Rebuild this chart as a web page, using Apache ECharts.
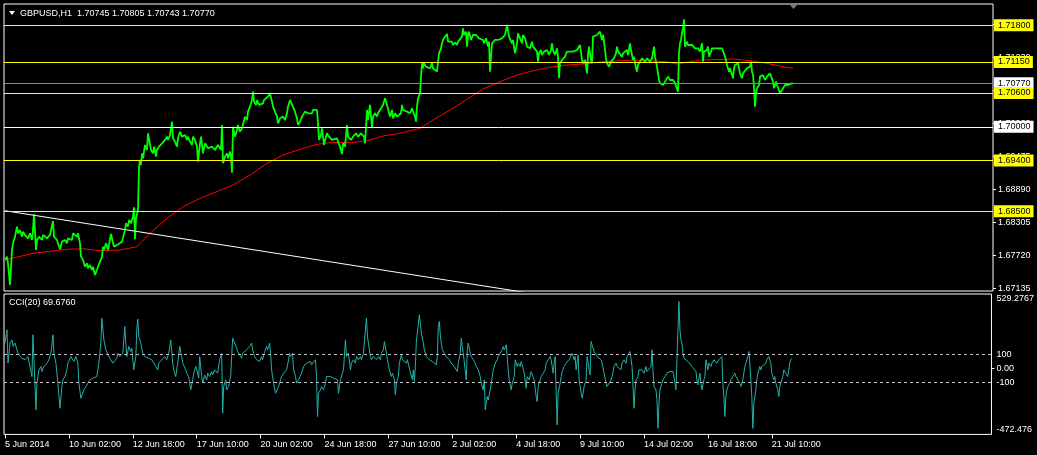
<!DOCTYPE html>
<html><head><meta charset="utf-8">
<script src="https://cdn.jsdelivr.net/npm/echarts@6/dist/echarts.min.js"></script>
<style>html,body{margin:0;padding:0;background:#000;}#c{width:1037px;height:455px;}</style>
</head><body><div id="c"></div>
<script>
// ---- data (bar index = hours since first bar, value) ----
const priceData = [
[0,1.67637],[2,1.67696],[3,1.67577],[5,1.67193],[7,1.67814],[8,1.67932],[10,1.6805],[12,1.68228],[13,1.6811],[15,1.68169],[17,1.6805],[18,1.68139],[20,1.6808],[22,1.6811],[23,1.68021],[25,1.6811],[27,1.67991],[28,1.68169],[29,1.68453],[31,1.67814],[32,1.67991],[34,1.6805],[37,1.67991],[38,1.6808],[42,1.68021],[45,1.6808],[47,1.6805],[48,1.68328],[49,1.6805],[52,1.67991],[53,1.67932],[55,1.67826],[57,1.67962],[60,1.67991],[62,1.67932],[63,1.68021],[67,1.67991],[68,1.6811],[70,1.68139],[72,1.6805],[73,1.6811],[75,1.67932],[76,1.67696],[78,1.67637],[80,1.67518],[82,1.67577],[83,1.67489],[85,1.67548],[87,1.67459],[88,1.67518],[90,1.6737],[92,1.67459],[93,1.67518],[95,1.67489],[97,1.67696],[98,1.67873],[99,1.67814],[101,1.67932],[103,1.67814],[104,1.67903],[106,1.68098],[108,1.67932],[109,1.67873],[112,1.67903],[114,1.67932],[117,1.67962],[118,1.67991],[120,1.68169],[121,1.68287],[123,1.68228],[124,1.68346],[126,1.68287],[128,1.68405],[129,1.68571],[130,1.68003],[131,1.68376],[132,1.68346],[133,1.68524],[134,1.69292],[135,1.69411],[136,1.69322],[137,1.69529],[138,1.6944],[140,1.69677],[142,1.69588],[143,1.69884],[144,1.69913],[146,1.69588],[148,1.69529],[149,1.69647],[151,1.6947],[152,1.69588],[154,1.69647],[157,1.69706],[158,1.69736],[160,1.69766],[162,1.69825],[163,1.69766],[165,1.69854],[167,1.70091],[168,1.69795],[170,1.69736],[172,1.69647],[173,1.69795],[175,1.69913],[177,1.69825],[178,1.69795],[180,1.69854],[182,1.69766],[183,1.69825],[185,1.69736],[187,1.69677],[188,1.69825],[190,1.69766],[192,1.69647],[193,1.69381],[195,1.69706],
[196,1.69825],[198,1.69529],[200,1.69706],[203,1.69618],[207,1.69647],[210,1.69588],[213,1.69677],[216,1.69588],[217,1.70032],[218,1.69352],[220,1.6947],[222,1.69529],[223,1.6944],[225,1.69559],[226,1.6947],[227,1.69186],[228,1.70002],[230,1.69825],[232,1.69943],[233,1.70032],[235,1.69913],[237,1.69973],[238,1.69943],[240,1.7018],[242,1.7012],[243,1.70268],[245,1.70357],[247,1.70475],[248,1.70623],[249,1.70446],[251,1.70387],[252,1.70475],[254,1.70387],[256,1.70357],[258,1.70416],[259,1.70475],[261,1.70505],[263,1.70534],[265,1.70594],[267,1.70446],[268,1.70357],[270,1.70268],[272,1.7018],[273,1.70061],[275,1.7015],[277,1.7012],[278,1.7018],[280,1.7012],[282,1.70239],[283,1.70357],[285,1.70475],[287,1.70505],[288,1.70357],[290,1.70268],[292,1.7015],[293,1.70032],[295,1.70091],[297,1.7018],[298,1.70209],[300,1.70268],[302,1.70298],[303,1.70239],[305,1.70268],[307,1.70239],[308,1.70298],[310,1.70268],[312,1.70298],[313,1.70061],[314,1.69766],[316,1.69854],[317,1.69973],[319,1.69677],[321,1.69825],[322,1.69884],[324,1.69825],[326,1.69795],[327,1.69766],[329,1.69736],[332,1.69795],[333,1.69736],[335,1.69647],[337,1.69517],[338,1.69706],[340,1.69647],[342,1.70032],[343,1.69825],[344,1.69854],[346,1.69766],[348,1.69825],[349,1.69795],[351,1.69884],[353,1.69825],[354,1.69854],[356,1.69884],[358,1.69913],[359,1.69825],[360,1.69706],[361,1.70002],[362,1.70298],[363,1.7012],[365,1.70387],[367,1.69973],[368,1.7018],[370,1.70239],[372,1.7018],[373,1.70239],[375,1.70298],[377,1.70327],[378,1.70387],[380,1.70505],[382,1.70387],[383,1.70357],[385,1.7018],[387,1.70298],[388,1.7015],[390,1.70239],[392,1.7018],[394,1.70209],
[396,1.70239],[397,1.70387],[398,1.70298],[400,1.70327],[402,1.70268],[403,1.70298],[405,1.70239],[407,1.70327],[408,1.70268],[410,1.7018],[411,1.70091],[412,1.70357],[413,1.70505],[415,1.70594],[416,1.70889],[417,1.71126],[418,1.71037],[419,1.71126],[421,1.71067],[423,1.71096],[425,1.71037],[427,1.71126],[428,1.71037],[430,1.71067],[432,1.70978],[433,1.70948],[434,1.71303],[436,1.71392],[437,1.71481],[438,1.7154],[440,1.71599],[442,1.71646],[443,1.7151],[445,1.71481],[447,1.7151],[448,1.71451],[450,1.71492],[452,1.71451],[453,1.7151],[455,1.71481],[457,1.71599],[458,1.71747],[459,1.71628],[461,1.71688],[462,1.71422],[463,1.71628],[464,1.71688],[466,1.7154],[468,1.71628],[469,1.71599],[471,1.71628],[473,1.71599],[474,1.71569],[476,1.71599],[478,1.7154],[479,1.71481],[481,1.71569],[483,1.71422],[484,1.7151],[485,1.70978],[487,1.71481],[488,1.7151],[490,1.7154],[492,1.7151],[493,1.7154],[495,1.7151],[497,1.71569],[498,1.7154],[500,1.71628],[501,1.71717],[502,1.71806],[504,1.71599],[505,1.71569],[507,1.71481],[508,1.7154],[510,1.71303],[512,1.71481],[513,1.71658],[515,1.71569],[517,1.71481],[518,1.71628],[520,1.71569],[522,1.71422],[523,1.71451],[525,1.71392],[527,1.7151],[528,1.71422],[530,1.71451],[532,1.71333],[533,1.71155],[534,1.71303],[536,1.71362],[537,1.71274],[539,1.71333],[541,1.71303],[542,1.71362],[544,1.71274],[546,1.71362],[547,1.71481],[548,1.71362],[550,1.71274],[552,1.71392],[553,1.71244],[554,1.7086],[555,1.71126],[557,1.71185],[558,1.71215],[560,1.71244],[562,1.71333],[563,1.71303],[565,1.71333],[567,1.71303],[568,1.71333],[570,1.71303],[572,1.71362],[573,1.71333],[575,1.71451],[577,1.71185],[578,1.71126],[580,1.71185],[582,1.70948],[583,1.71274],[584,1.71422],[586,1.71185],[587,1.71126],[588,1.71599],[590,1.71569],[592,1.71628],[593,1.71599],[595,1.71688],
[597,1.7154],[598,1.71628],[599,1.7151],[600,1.71362],[601,1.71215],[602,1.71126],[604,1.71067],[606,1.71155],[607,1.71126],[609,1.71215],[611,1.71303],[612,1.71422],[613,1.71333],[615,1.71303],[617,1.71244],[618,1.71303],[620,1.71274],[622,1.71362],[623,1.71274],[625,1.71481],[626,1.71362],[627,1.71274],[628,1.71185],[629,1.71244],[631,1.71037],[632,1.70978],[633,1.71096],[635,1.71155],[637,1.71215],[638,1.71185],[640,1.71155],[642,1.71215],[643,1.71185],[645,1.71155],[647,1.71215],[648,1.71185],[649,1.71422],[650,1.71244],[652,1.71067],[653,1.71096],[654,1.7083],[655,1.70771],[657,1.70801],[658,1.70741],[660,1.70801],[662,1.7083],[663,1.70889],[665,1.7083],[667,1.70801],[668,1.7083],[670,1.70771],[672,1.70741],[673,1.70623],[674,1.71303],[675,1.71481],[676,1.7154],[677,1.71658],[678,1.71747],[679,1.71906],[680,1.71422],[682,1.7151],[683,1.71451],[685,1.71481],[687,1.71451],[688,1.71422],[690,1.71392],[692,1.71362],[693,1.71392],[695,1.71333],[697,1.71481],[698,1.71155],[699,1.71333],[700,1.71303],[702,1.71362],[703,1.71422],[704,1.71244],[706,1.71333],[707,1.71392],[709,1.71362],[711,1.71392],[712,1.71362],[714,1.71392],[716,1.71422],[717,1.71392],[719,1.71422],[720,1.71244],[721,1.71185],[722,1.71096],[724,1.70978],[725,1.71037],[727,1.71008],[728,1.7086],[729,1.71037],[730,1.71096],[732,1.71067],[733,1.71126],[735,1.70948],[737,1.7086],[738,1.70948],[740,1.70978],[742,1.71037],[743,1.71008],[745,1.71067],[746,1.71155],[747,1.70978],[748,1.70919],[749,1.70712],[750,1.70357],[751,1.70594],[752,1.70682],[754,1.70741],[755,1.70889],[757,1.7086],[758,1.70919],[760,1.7083],[762,1.70889],[763,1.7086],[765,1.70948],[767,1.70978],[768,1.70801],[769,1.70682],[771,1.70801],[772,1.70741],[773,1.70741],[775,1.70594],[777,1.70653],[778,1.70682],[780,1.70741],[782,1.70712],[783,1.70741],[785,1.70771],[787,1.70771],[788,1.7077]
];
const maData = [
[0,1.67636],[28,1.67755],[62,1.67826],[78,1.67836],[95,1.67801],[115,1.67813],[132,1.67872],[145,1.68109],[162,1.68376],[178,1.68581],[195,1.6873],[228,1.68966],[245,1.69144],[262,1.69351],[278,1.69499],[295,1.696],[312,1.69689],[328,1.69724],[345,1.69717],[362,1.69752],[378,1.69836],[395,1.69884],[415,1.69972],[428,1.7012],[445,1.70297],[462,1.70487],[478,1.7067],[495,1.70799],[512,1.70918],[528,1.70994],[545,1.71055],[562,1.71096],[578,1.71113],[595,1.71149],[628,1.71184],[662,1.71154],[672,1.71113],[685,1.71154],[695,1.71184],[728,1.71202],[745,1.71172],[762,1.71126],[778,1.71065],[788,1.71037]
];
const cciData = [
[0,179],[2,274],[3,36],[5,179],[7,202],[8,155],[10,179],[13,107],[17,71],[20,60],[23,83],[25,12],[27,-60],[28,238],[29,60],[31,-298],[32,-107],[34,-12],[36,12],[37,-24],[39,12],[41,0],[42,36],[44,60],[46,107],[48,238],[49,107],[51,36],[53,-107],[55,-286],[57,-131],[58,-83],[60,-60],[62,-12],[63,36],[66,83],[68,95],[69,48],[71,83],[73,36],[74,-107],[76,-214],[78,-226],[79,-155],[81,-131],[83,-107],[85,-83],[88,-71],[90,-83],[92,-60],[94,36],[96,179],[97,357],[99,202],[101,131],[103,119],[105,71],[107,83],[108,36],[110,48],[112,71],[113,107],[115,83],[118,107],[120,298],[121,179],[122,83],[124,155],[126,119],[127,143],[129,-12],[131,83],[132,274],[133,350],[134,226],[136,179],[138,107],[140,83],[142,95],[144,71],[147,60],[149,36],[151,12],[153,-12],[154,36],[157,60],[158,71],[160,83],[162,60],[164,107],[166,202],[168,36],[169,-12],[171,-60],[173,36],[175,155],[177,83],[178,36],[181,-12],[182,-36],[184,-60],[186,-155],[188,-83],[189,-36],[191,12],[193,-36],[194,-71],
[195,83],[197,-60],[198,-107],[200,-48],[202,-83],[203,-36],[205,-60],[207,-24],[208,-48],[210,-12],[212,-24],[213,-36],[215,60],[217,107],[218,-321],[219,-131],[221,-83],[222,-155],[224,-131],[226,-60],[227,83],[228,214],[230,179],[232,143],[233,119],[235,95],[237,71],[238,107],[240,119],[242,131],[243,143],[245,155],[247,179],[248,131],[250,83],[252,60],[253,71],[255,48],[257,83],[258,60],[260,119],[262,155],[263,131],[265,179],[266,107],[267,-12],[269,-107],[271,-179],[272,-179],[274,-131],[276,-83],[277,-60],[279,-36],[281,-48],[282,-12],[284,60],[285,107],[286,83],[288,107],[289,-12],[291,-60],[292,-107],[294,-83],[296,-95],[297,-36],[299,12],[301,24],[302,36],[304,24],[306,48],[307,24],[309,36],[311,60],[312,-60],[313,-345],[314,-179],[316,-155],[317,-131],[319,-155],[321,-107],[322,-60],[324,-48],[326,-60],[327,-48],[329,-71],[331,-60],[333,-83],[334,-179],[336,-83],[338,-36],[339,-12],[341,202],[342,83],[344,107],[346,-12],[347,36],[349,60],[351,36],[352,83],[354,60],[356,83],[357,60],[359,107],[361,274],[362,357],[363,226],[364,179],[366,83],[367,60],[369,83],[371,71],[372,60],[374,83],[376,60],[377,107],[379,131],[380,190],[382,107],[383,60],[385,-12],[387,-60],[388,-36],[390,-83],[391,-190],[392,-107],[394,-60],
[395,36],[397,95],[398,60],[400,71],[402,36],[403,60],[405,0],[407,12],[408,-83],[409,-12],[410,-95],[411,12],[412,190],[414,179],[415,381],[416,321],[417,250],[419,179],[420,131],[422,83],[423,71],[425,60],[427,48],[428,48],[430,36],[432,24],[433,83],[434,298],[435,333],[436,238],[437,179],[438,131],[440,107],[442,83],[443,71],[445,60],[447,36],[448,24],[450,12],[452,12],[453,-24],[454,36],[456,107],[457,214],[458,155],[459,107],[460,107],[462,-83],[463,131],[464,179],[466,107],[467,83],[469,60],[471,36],[472,12],[474,-12],[476,-60],[477,-107],[479,-155],[480,-83],[481,-298],[483,-202],[484,-226],[486,-155],[488,-60],[489,-12],[491,36],[493,60],[494,83],[496,107],[498,131],[499,155],[500,131],[502,167],[503,83],[504,-12],[505,-83],[507,-155],[508,-107],[510,-60],[511,60],[513,12],[514,36],[516,12],[517,48],[519,60],[520,-36],[522,-143],[523,-60],[525,-83],[527,-24],[528,-12],[530,-83],[532,-202],[533,-238],[534,-131],[536,-83],[537,-60],[539,-48],[541,-12],[542,36],[544,36],[546,83],[547,60],[549,-36],[550,36],[551,83],[552,95],[553,-405],[554,-179],[556,-107],[557,-60],[558,-24],[560,12],[562,36],[563,48],[565,60],[567,48],[568,107],[570,60],[571,83],[572,-12],[574,95],[575,-83],[576,-131],[578,-214],[579,-179],[580,-131],[582,-83],[583,83],[585,95],[586,-48],[587,190],[588,167],[590,119],[592,107],[593,83],[595,71],
[597,60],[598,36],[600,-36],[602,-107],[603,-131],[605,-107],[607,-83],[608,-60],[610,12],[612,36],[613,12],[615,24],[617,-12],[618,36],[620,60],[622,36],[623,83],[625,71],[626,119],[628,12],[629,-131],[630,-286],[631,-155],[632,-83],[634,-60],[635,-12],[637,0],[638,-12],[640,-36],[642,12],[643,-24],[645,-36],[647,12],[648,131],[649,-12],[650,-131],[652,-155],[653,-226],[654,-429],[655,-250],[656,-155],[658,-107],[659,-83],[661,-60],[663,-36],[664,-36],[666,-24],[668,-36],[669,-24],[671,-107],[672,-155],[673,60],[674,274],[675,476],[676,274],[677,202],[678,179],[679,107],[680,71],[682,60],[684,48],[686,36],[688,12],[690,0],[692,-24],[693,-83],[694,-119],[696,-36],[697,-107],[698,-155],[700,-83],[701,-60],[702,60],[704,-12],[705,36],[707,12],[708,36],[710,60],[712,71],[713,36],[715,60],[717,71],[718,83],[719,-119],[720,-202],[721,-345],[722,-202],[723,-155],[724,-131],[726,-107],[727,-83],[729,-60],[731,-36],[732,-60],[734,-83],[736,-107],[737,-131],[739,-83],[741,12],[742,36],[744,83],[745,119],[746,36],[747,-83],[748,-202],[749,-429],[750,-250],[752,-155],[753,-83],[754,-36],[756,12],[757,-12],[758,12],[760,0],[762,36],[763,60],[765,83],[767,36],[768,-36],[770,-83],[771,-60],[772,-107],[774,-155],[775,-202],[776,-131],[778,-83],[779,-60],[780,-12],[782,-36],[783,-24],[784,-60],[786,36],[787,60],[788,69.676]
];
const trendData = [[0,1.6851],[600,1.66838]];
const yellowLevels = [1.718, 1.7115, 1.706, 1.694, 1.685];
const whiteLevel = 1.70000;
const bidLevel = 1.70770;
const priceTicks = [1.67135, 1.67720, 1.68305, 1.68890, 1.69475, 1.70060, 1.70645, 1.71230, 1.71815];
const cciTicks = [-472.476, -100, 0, 100, 529.2767];
const cciLevels = [100, -100];
const timeTickBars = [0, 64, 128, 192, 256, 320, 384, 448, 512, 576, 640, 704, 768];
const timeTickLabels = ['5 Jun 2014','10 Jun 02:00','12 Jun 18:00','17 Jun 10:00','20 Jun 02:00','24 Jun 18:00','27 Jun 10:00','2 Jul 02:00','4 Jul 18:00','9 Jul 10:00','14 Jul 02:00','16 Jul 18:00','21 Jul 10:00'];
const titleText = 'GBPUSD,H1  1.70745 1.70805 1.70743 1.70770';
const cciTitle = 'CCI(20) 69.6760';

// ---- chart ----
const FONT = 'Liberation Sans, Arial, sans-serif';
const chart = echarts.init(document.getElementById('c'), null, {renderer: 'canvas'});
function levelLine(v, lineColor, boxColor) {
  return {
    yAxis: v,
    lineStyle: {color: lineColor, width: 1, type: 'solid'},
    label: {show: true, position: 'end', distance: 1, formatter: () => v.toFixed(5),
      color: '#000', backgroundColor: boxColor, padding: [2, 3, 1, 4],
      fontSize: 9, fontFamily: FONT, lineHeight: 9}
  };
}
const levelMarks = [levelLine(bidLevel, '#8c8c8c', '#ffffff'), levelLine(whiteLevel, '#ffffff', '#ffffff')]
  .concat(yellowLevels.map(v => levelLine(v, '#ffff00', '#ffff00')));

chart.setOption({
  backgroundColor: '#000',
  animation: false,
  title: [
    {text: titleText, left: 20, top: 9, padding: 0, textStyle: {color: '#fff', fontSize: 9, fontWeight: 'normal', fontFamily: FONT}},
    {text: cciTitle, left: 9, top: 298, padding: 0, textStyle: {color: '#fff', fontSize: 9, fontWeight: 'normal', fontFamily: FONT}}
  ],
  graphic: [
    {type: 'polygon', shape: {points: [[9, 11], [15, 11], [12, 15]]}, style: {fill: '#fff'}},
    {type: 'polygon', shape: {points: [[789, 4], [798, 4], [793.5, 9]]}, style: {fill: '#7a7a7a'}}
  ],
  grid: [
    {left: 4, top: 4, width: 989, height: 287, show: true, borderColor: '#fff', borderWidth: 1, backgroundColor: 'transparent'},
    {left: 4, top: 294, width: 989, height: 140.4, show: true, borderColor: '#fff', borderWidth: 1, backgroundColor: 'transparent'}
  ],
  xAxis: [
    {gridIndex: 0, type: 'value', min: -1, max: 988, show: false},
    {gridIndex: 1, type: 'value', min: -1, max: 988, position: 'bottom',
      axisLine: {show: false, onZero: false}, splitLine: {show: false},
      axisTick: {show: true, customValues: timeTickBars, length: 4, lineStyle: {color: '#fff'}},
      axisLabel: {customValues: timeTickBars, color: '#fff', fontSize: 9, fontFamily: FONT, align: 'left', margin: 6,
        formatter: v => timeTickLabels[timeTickBars.indexOf(v)]}}
  ],
  yAxis: [
    {gridIndex: 0, type: 'value', position: 'right', min: 1.67086, max: 1.72178,
      axisLine: {show: false, onZero: false}, splitLine: {show: false},
      axisTick: {show: true, customValues: priceTicks, length: 3, lineStyle: {color: '#fff'}},
      axisLabel: {customValues: priceTicks, color: '#fff', fontSize: 9, fontFamily: FONT, margin: 5,
        formatter: v => v.toFixed(5)}},
    {gridIndex: 1, type: 'value', position: 'right', min: -472.476, max: 529.2767,
      axisLine: {show: false, onZero: false}, splitLine: {show: false},
      axisTick: {show: true, customValues: [0], length: 3, lineStyle: {color: '#fff'}},
      axisLabel: {customValues: cciTicks, color: '#fff', fontSize: 9, fontFamily: FONT, margin: 5,
        verticalAlignMaxLabel: 'top', verticalAlignMinLabel: 'bottom',
        formatter: v => (v === 0 ? '0.00' : String(v))}}
  ],
  series: [
    {type: 'line', name: 'MA', xAxisIndex: 0, yAxisIndex: 0, data: maData, showSymbol: false,
      lineStyle: {color: '#ff0000', width: 1}, z: 2},
    {type: 'line', name: 'GBPUSD', xAxisIndex: 0, yAxisIndex: 0, data: priceData, showSymbol: false,
      lineStyle: {color: '#00ff00', width: 1.8}, z: 3},
    {type: 'line', name: 'Trend', xAxisIndex: 0, yAxisIndex: 0, data: trendData, showSymbol: false,
      lineStyle: {color: '#ffffff', width: 1}, z: 4, clip: true,
      markLine: {silent: true, symbol: 'none', animation: false, precision: 5, data: levelMarks}},
    {type: 'line', name: 'CCI', xAxisIndex: 1, yAxisIndex: 1, data: cciData, showSymbol: false,
      lineStyle: {color: '#20b2aa', width: 1}, z: 3,
      markLine: {silent: true, symbol: 'none', animation: false, precision: 2, label: {show: false},
        lineStyle: {color: '#c0c0c0', width: 1, type: [3, 3]},
        data: cciLevels.map(v => ({yAxis: v}))}}
  ]
});
</script>
</body></html>
